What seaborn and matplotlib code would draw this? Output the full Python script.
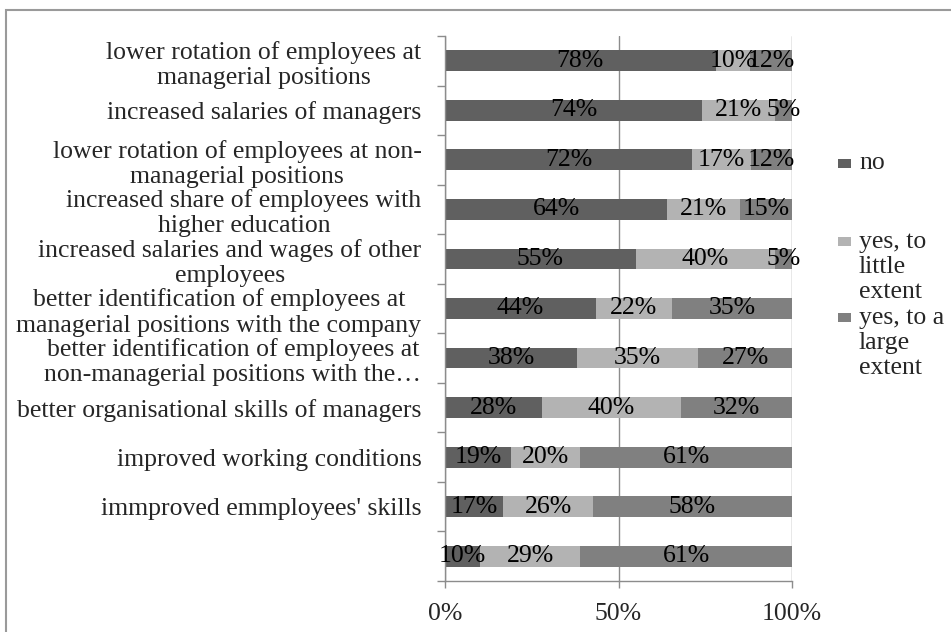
import numpy as np
import pandas as pd
import matplotlib
matplotlib.use('Agg')
import matplotlib.pyplot as plt
import seaborn as sns
from matplotlib.patches import Rectangle

# items, top to bottom as they appear in the chart
items = [
    'lower rotation of employees at\nmanagerial positions',
    'increased salaries of managers',
    'lower rotation of employees at non-\nmanagerial positions',
    'increased share of employees with\nhigher education',
    'increased salaries and wages of other\nemployees',
    'better identification of employees at\nmanagerial positions with the company',
    'better identification of employees at\nnon-managerial positions with the\u2026',
    'better organisational skills of managers',
    'improved working conditions',
    "immproved emmployees' skills",
    '',
]
# answer shares in percent
no = [78, 74, 72, 64, 55, 44, 38, 28, 19, 17, 10]
little = [10, 21, 17, 21, 40, 22, 35, 40, 20, 26, 29]
large = [12, 5, 12, 15, 5, 35, 27, 32, 61, 58, 61]

series = ['no', 'yes, to\nlittle\nextent', 'yes, to a\nlarge\nextent']
colors = ['#606060', '#b3b3b3', '#808080']
x_labels = ['0%', '50%', '100%']

df = pd.DataFrame({'item': items, 'no': no, 'little': little, 'large': large})
cols = ['no', 'little', 'large']
shares = df[cols].div(df[cols].sum(axis=1), axis=0)   # 100% stacked
cum = shares.cumsum(axis=1)

sns.set_theme(style='white')
plt.rcParams['font.family'] = ['Liberation Serif', 'DejaVu Serif']
FS = 18.5
LSP = 1.18
GRAY = '#8c8c8c'

W, H = 951, 632
fig = plt.figure(figsize=(W / 100, H / 100), dpi=100)
ax = fig.add_axes([445 / W, 1 - 581 / H, (792 - 445) / W, (581 - 36) / H])

# draw stacked bars as layered cumulative bars, widest first
for col, c in zip(cols[::-1], colors[::-1]):
    sns.barplot(x=cum[col], y=df['item'], color=c, saturation=1, width=0.42,
                orient='h', errorbar=None, linewidth=0, ax=ax)

# value labels in the middle of each segment
for i in range(len(df)):
    start = 0
    for col in cols:
        s = shares.loc[i, col]
        ax.text(start + s / 2, i, f'{df.loc[i, col]}%', ha='center', va='center',
                fontsize=FS, color='black')
        start += s

ax.set_xlim(0, 1)
ax.set_ylim(len(df) - 0.5, -0.5)
ax.set_xlabel('')
ax.set_ylabel('')

ax.set_xticks([0, 0.5, 1], x_labels)
ax.set_yticks(range(len(df)), items)
ax.set_yticks(np.arange(-0.5, len(df), 1), minor=True)
ax.tick_params(axis='y', which='major', length=0, pad=17, labelsize=FS)
ax.tick_params(axis='y', which='minor', length=6, width=1, color=GRAY, left=True)
ax.tick_params(axis='x', length=5, width=1, color=GRAY, pad=11, labelsize=FS, bottom=True)
for lbl in ax.get_yticklabels():
    lbl.set_multialignment('center')
    lbl.set_linespacing(LSP)

ax.set_axisbelow(True)
ax.xaxis.grid(True, color=GRAY, lw=1)
ax.yaxis.grid(False)
for side in ['top', 'right']:
    ax.spines[side].set_visible(False)
for side in ['left', 'bottom']:
    ax.spines[side].set_color(GRAY)
    ax.spines[side].set_linewidth(1)

# legend drawn by hand so the marker sits on the first line
marker_y = [163, 241, 317]
top_y = [152, 231, 307]
for lab, c, my, ty in zip(series, colors, marker_y, top_y):
    fig.patches.append(Rectangle((838 / W, 1 - (my + 4.5) / H), 13 / W, 9 / H,
                                 transform=fig.transFigure, facecolor=c, edgecolor='none'))
    fig.text(859 / W, 1 - ty / H, lab, va='top', ha='left', fontsize=FS,
             linespacing=LSP)

# outer chart frame
fig.patches.append(Rectangle((6 / W, -0.1), 1.2, 1.1 - 10 / H, transform=fig.transFigure,
                             fill=False, edgecolor='#9a9a9a', lw=1.5))

fig.savefig('out.png', dpi=100)
